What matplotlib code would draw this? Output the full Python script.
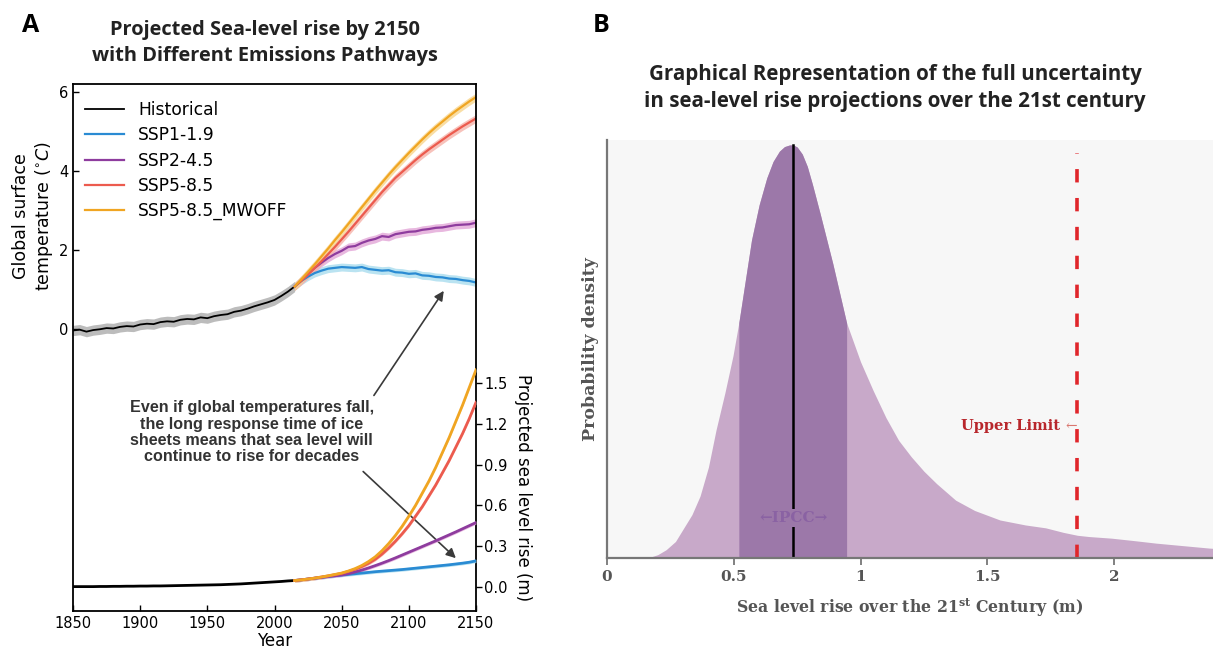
import numpy as np
import matplotlib.pyplot as plt

# ---- Panel A data: temperature anomaly (C) and sea level rise (m) ----
hist_years = np.arange(1850, 2016, 5)
hist_temp = [-0.03, -0.01, -0.06, -0.02, 0.00, 0.03, 0.02, 0.06, 0.08, 0.07,
             0.12, 0.14, 0.13, 0.18, 0.20, 0.19, 0.24, 0.26, 0.25, 0.30,
             0.28, 0.33, 0.36, 0.38, 0.44, 0.47, 0.52, 0.58, 0.63, 0.68,
             0.74, 0.84, 0.95, 1.08]
hist_sea = [0.0, 0.0, 0.0, 0.0, 0.001, 0.001, 0.002, 0.002, 0.003, 0.003,
            0.004, 0.004, 0.005, 0.005, 0.006, 0.007, 0.008, 0.009, 0.010, 0.011,
            0.012, 0.013, 0.014, 0.016, 0.018, 0.020, 0.023, 0.026, 0.029, 0.032,
            0.035, 0.038, 0.042, 0.045]

proj_years = np.arange(2015, 2151, 5)
ssp119_temp = [1.08, 1.22, 1.33, 1.42, 1.48, 1.53, 1.55, 1.57, 1.56, 1.55,
               1.57, 1.52, 1.50, 1.48, 1.49, 1.44, 1.43, 1.40, 1.41, 1.36,
               1.35, 1.32, 1.31, 1.28, 1.27, 1.24, 1.22, 1.18]
ssp245_temp = [1.08, 1.25, 1.40, 1.55, 1.68, 1.80, 1.90, 1.98, 2.08, 2.10,
               2.18, 2.24, 2.28, 2.35, 2.33, 2.40, 2.43, 2.46, 2.47, 2.51,
               2.53, 2.56, 2.57, 2.60, 2.63, 2.64, 2.65, 2.69]
ssp585_temp = [1.08, 1.22, 1.38, 1.55, 1.72, 1.90, 2.08, 2.27, 2.46, 2.66,
               2.86, 3.06, 3.26, 3.46, 3.64, 3.82, 3.97, 4.12, 4.27, 4.41,
               4.54, 4.66, 4.78, 4.90, 5.01, 5.12, 5.22, 5.32]
mwoff_temp = [1.08, 1.26, 1.45, 1.64, 1.84, 2.04, 2.25, 2.45, 2.66, 2.87,
              3.08, 3.29, 3.50, 3.70, 3.90, 4.09, 4.27, 4.45, 4.62, 4.79,
              4.95, 5.10, 5.24, 5.38, 5.51, 5.63, 5.75, 5.86]

ssp119_sea = [0.045, 0.050, 0.056, 0.062, 0.068, 0.074, 0.080, 0.085, 0.090, 0.095,
              0.100, 0.105, 0.110, 0.114, 0.118, 0.122, 0.126, 0.131, 0.136, 0.141,
              0.146, 0.151, 0.156, 0.161, 0.167, 0.173, 0.180, 0.190]
ssp245_sea = [0.045, 0.050, 0.056, 0.062, 0.068, 0.075, 0.080, 0.086, 0.095, 0.108,
              0.122, 0.138, 0.155, 0.173, 0.192, 0.212, 0.233, 0.254, 0.275, 0.296,
              0.317, 0.338, 0.360, 0.382, 0.404, 0.427, 0.450, 0.473]
ssp585_sea = [0.045, 0.050, 0.056, 0.063, 0.071, 0.079, 0.088, 0.098, 0.112, 0.128,
              0.148, 0.172, 0.202, 0.240, 0.285, 0.335, 0.390, 0.450, 0.520, 0.590,
              0.670, 0.750, 0.840, 0.930, 1.030, 1.130, 1.240, 1.360]
mwoff_sea = [0.045, 0.050, 0.056, 0.063, 0.071, 0.080, 0.090, 0.100, 0.115, 0.133,
             0.156, 0.185, 0.220, 0.265, 0.318, 0.378, 0.445, 0.520, 0.600, 0.690,
             0.780, 0.880, 0.990, 1.100, 1.220, 1.340, 1.470, 1.600]

scenario_labels = ["SSP1-1.9", "SSP2-4.5", "SSP5-8.5", "SSP5-8.5_MWOFF"]

# ---- Panel B data: probability density of 21st century sea level rise ----
slr_x = [0.00, 0.10, 0.16, 0.20, 0.233, 0.27, 0.30, 0.335, 0.367, 0.40,
         0.43, 0.465, 0.497, 0.52, 0.545, 0.57, 0.60, 0.63, 0.655, 0.68,
         0.70, 0.72, 0.735, 0.75, 0.77, 0.79, 0.81, 0.84, 0.89, 0.945,
         1.00, 1.05, 1.10, 1.15, 1.20, 1.25, 1.30, 1.375, 1.45, 1.55,
         1.65, 1.73, 1.80, 1.855, 1.90, 1.99, 2.08, 2.165, 2.27, 2.375, 2.40]
slr_density = [0.0, 0.0, 0.0, 0.008, 0.02, 0.04, 0.07, 0.105, 0.15, 0.22,
               0.31, 0.40, 0.49, 0.57, 0.67, 0.77, 0.855, 0.92, 0.96, 0.985,
               0.996, 1.0, 1.0, 0.995, 0.978, 0.948, 0.905, 0.835, 0.714, 0.569,
               0.475, 0.405, 0.34, 0.285, 0.245, 0.21, 0.18, 0.14, 0.115, 0.092,
               0.08, 0.073, 0.062, 0.055, 0.052, 0.048, 0.042, 0.036, 0.030, 0.024,
               0.023]
ipcc_low, ipcc_high = 0.52, 0.945
slr_median = 0.735
upper_limit = 1.855

fig = plt.figure(figsize=(12.13, 6.62), dpi=100)

# ================= Panel A =================
ax = fig.add_axes([73 / 1213, 1 - 611 / 662, 403 / 1213, 527 / 662])
ax2 = ax.twinx()

line_cols = ["#2a8bd3", "#8e3c9e", "#ec5b4e", "#f0a522"]
band_cols = ["#a9dcee", "#e3a6d8", "#f6b3aa", "#f8d68e"]
temps = [ssp119_temp, ssp245_temp, ssp585_temp, mwoff_temp]
seas = [ssp119_sea, ssp245_sea, ssp585_sea, mwoff_sea]

ax.fill_between(hist_years, np.array(hist_temp) - 0.13, np.array(hist_temp) + 0.13,
                color="#bcbcbc", lw=0)
ax.plot(hist_years, hist_temp, color="black", lw=1.3, label="Historical")
for t, lc, bc, lab in zip(temps, line_cols, band_cols, scenario_labels):
    t = np.array(t)
    ax.fill_between(proj_years, t - 0.1, t + 0.1, color=bc, lw=0, alpha=0.8)
    ax.plot(proj_years, t, color=lc, lw=1.6, label=lab)

ax2.plot(hist_years, hist_sea, color="black", lw=2)
for s, lc, bc in zip(seas, line_cols, band_cols):
    s = np.array(s)
    ax2.fill_between(proj_years, s - 0.012, s + 0.012, color=bc, lw=0, alpha=0.8)
    ax2.plot(proj_years, s, color=lc, lw=2)

ax.set_xlim(1850, 2150)
ax.set_ylim(-7.11, 6.19)
ax2.set_ylim(-0.18, 3.71)
ax.set_xticks([1850, 1900, 1950, 2000, 2050, 2100, 2150])
ax.set_yticks([0, 2, 4, 6])
ax2.set_yticks([0.0, 0.3, 0.6, 0.9, 1.2, 1.5])
ax2.set_yticklabels(["0.0", "0.3", "0.6", "0.9", "1.2", "1.5"])
ax.tick_params(direction="in", labelsize=10.5, length=4, width=1)
ax2.tick_params(direction="out", labelsize=10.5, length=4, width=1, pad=2)
for sp in ax.spines.values():
    sp.set_linewidth(1.3)
for sp in ax2.spines.values():
    sp.set_visible(False)

ax.set_xlabel("Year", fontsize=12, labelpad=1)
ax.set_ylabel("Global surface\ntemperature ($^{\\circ}C$)", fontsize=12.5)
ax.yaxis.set_label_coords(-0.045, 0.75)
ax2.set_ylabel("Projected sea level rise (m)", fontsize=12, rotation=270,
               va="bottom")
ax2.yaxis.set_label_coords(1.095, 0.235)

ax.legend(loc="upper left", bbox_to_anchor=(0.0, 0.99), frameon=False,
          fontsize=12.3, handlelength=2.3, labelspacing=0.42, borderaxespad=0.3)

note = ("Even if global temperatures fall,\nthe long response time of ice\n"
        "sheets means that sea level will\ncontinue to rise for decades")
ax.text(1983, -2.6, note, ha="center", va="center", fontsize=11.6,
        fontweight="bold", family="Liberation Sans", color="#333333",
        linespacing=1.1)
ax.annotate("", xy=(2126, 0.97), xytext=(2074, -1.67),
            arrowprops=dict(arrowstyle="-|>", color="#3a3a3a", lw=1.2,
                            mutation_scale=14, shrinkA=0, shrinkB=0))
ax.annotate("", xy=(2135, 0.21), xycoords=ax2.transData,
            xytext=(2066, -3.59), textcoords=ax.transData,
            arrowprops=dict(arrowstyle="-|>", color="#3a3a3a", lw=1.2,
                            mutation_scale=14, shrinkA=0, shrinkB=0))

fig.text(22 / 1213, 1 - 25 / 662, "A", fontsize=18, fontweight="bold",
         family="Open Sans", ha="left", va="center")
fig.text(265 / 1213, 1 - 43 / 662,
         "Projected Sea-level rise by 2150\nwith Different Emissions Pathways",
         fontsize=14.4, fontweight="bold", family="Open Sans", ha="center",
         va="center", linespacing=1.4, color="#222222")

# ================= Panel B =================
bx = fig.add_axes([607 / 1213, 1 - 558 / 662, 606 / 1213, 418 / 662])
bx.set_facecolor("#f7f7f7")
sx = np.array(slr_x)
sd = np.array(slr_density)
bx.fill_between(sx, 0, sd, color="#c8a9c9", lw=0)
bx.fill_between(sx, 0, sd, where=(sx >= ipcc_low) & (sx <= ipcc_high),
                color="#9c78a9", lw=0)
bx.plot([slr_median, slr_median], [0, 1.0], color="black", lw=1.8)
bx.text(slr_median, 0.097, "\u2190IPCC\u2192", ha="center", va="center",
        fontsize=11, fontweight="bold", family="DejaVu Serif", color="#8a62a3",
        bbox=dict(facecolor="#9c78a9", edgecolor="none", pad=1.5))
bx.axvline(upper_limit, ymin=0, ymax=0.97, color="#e0262b", lw=2.6,
           linestyle=(0, (3.7, 4.3)))
bx.text(upper_limit - 0.07, 0.32, "Upper Limit", ha="right", va="center",
        fontsize=10.5, fontweight="bold", family="DejaVu Serif", color="#b8262b")
bx.text(upper_limit, 0.32, "\u2190", ha="right", va="center",
        fontsize=10, family="DejaVu Serif", color="#d9776f")

bx.set_xlim(0, 2.39)
bx.set_ylim(0, 1.012)
bx.set_xticks([0, 0.5, 1, 1.5, 2])
bx.set_xticklabels(["0", "0.5", "1", "1.5", "2"], fontsize=11,
                   fontweight="bold", family="DejaVu Serif", color="#555555")
bx.set_yticks([])
bx.tick_params(axis="x", direction="out", length=5, width=1.3, color="#777777")
for side in ["top", "right"]:
    bx.spines[side].set_visible(False)
for side in ["left", "bottom"]:
    bx.spines[side].set_color("#777777")
    bx.spines[side].set_linewidth(1.6)
bx.set_xlabel("Sea level rise over the 21$^{\\mathbf{st}}$ Century (m)",
              fontsize=11.3, fontweight="bold", family="DejaVu Serif",
              color="#555555", math_fontfamily="dejavuserif", labelpad=9)
bx.set_ylabel("Probability density", fontsize=12.5, fontweight="bold",
              family="DejaVu Serif", color="#555555", labelpad=6)

fig.text(593 / 1213, 1 - 25 / 662, "B", fontsize=18, fontweight="bold",
         family="Open Sans", ha="left", va="center")
fig.text(895 / 1213, 1 - 88 / 662,
         "Graphical Representation of the full uncertainty\n"
         "in sea-level rise projections over the 21st century",
         fontsize=14.8, fontweight="bold", family="Open Sans", ha="center",
         va="center", linespacing=1.35, color="#222222")

fig.savefig("out.png", dpi=100)
